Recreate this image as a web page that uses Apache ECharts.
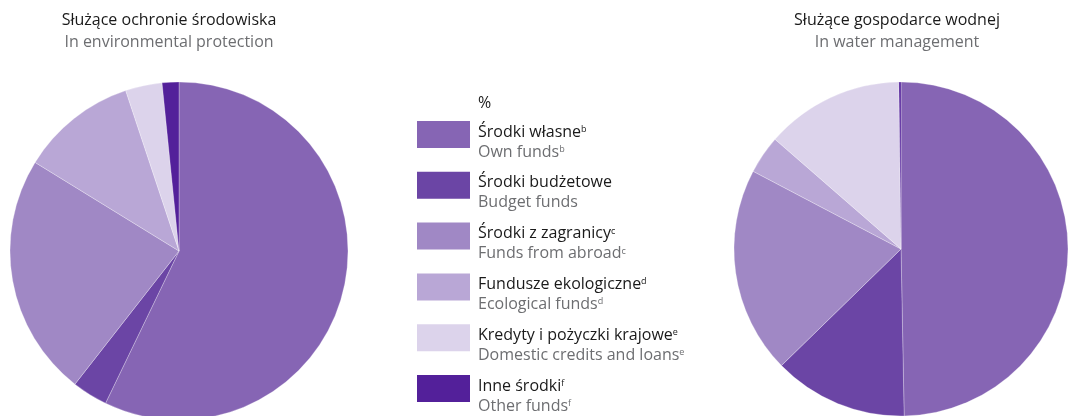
<!DOCTYPE html>
<html>
<head>
<meta charset="utf-8">
<script src="https://cdn.jsdelivr.net/npm/echarts@6/dist/echarts.min.js"></script>
<style>
  html, body { margin: 0; padding: 0; background: #fff; }
  #chart { width: 1070px; height: 416px; }
</style>
</head>
<body>
<div id="chart"></div>
<script>
// kategorie / categories
const categoriesPl = ['Środki własne', 'Środki budżetowe', 'Środki z zagranicy', 'Fundusze ekologiczne', 'Kredyty i pożyczki krajowe', 'Inne środki']
const categoriesEn = ['Own funds', 'Budget funds', 'Funds from abroad', 'Ecological funds', 'Domestic credits and loans', 'Other funds']
const footnotes = ['b', '', 'c', 'd', 'e', 'f']
// udział w %
const environmentValues = [57.1, 3.4, 23.2, 11.1, 3.5, 1.6]
const waterValues = [49.7, 13.0, 20.0, 3.7, 13.4, 0.2]

const colors = ['#8665b4', '#6b45a5', '#a088c5', '#b9a7d6', '#dcd3eb', '#53209a']
const font = '"Open Sans", Lato, sans-serif'

let myChart = echarts.init(document.getElementById('chart'))

function toData(values) {
  return values.map((v, i) => ({ name: categoriesPl[i], value: v }))
}

myChart.setOption({
  color: colors,
  animation: false,
  title: [
    {
      text: 'Służące ochronie środowiska',
      subtext: 'In environmental protection',
      left: 169,
      top: 10,
      textAlign: 'center',
      itemGap: 2,
      padding: 0,
      textStyle: { fontFamily: font, fontSize: 16, fontWeight: 'normal', color: '#1a1a1a', lineHeight: 20 },
      subtextStyle: { fontFamily: font, fontSize: 16, color: '#6d6e71', lineHeight: 20 },
    },
    {
      text: 'Służące gospodarce wodnej',
      subtext: 'In water management',
      left: 897,
      top: 10,
      textAlign: 'center',
      itemGap: 2,
      padding: 0,
      textStyle: { fontFamily: font, fontSize: 16, fontWeight: 'normal', color: '#1a1a1a', lineHeight: 20 },
      subtextStyle: { fontFamily: font, fontSize: 16, color: '#6d6e71', lineHeight: 20 },
    },
    {
      text: '%',
      left: 478,
      top: 93,
      padding: 0,
      textStyle: { fontFamily: font, fontSize: 16, fontWeight: 'normal', color: '#1a1a1a', lineHeight: 20 },
    },
  ],
  legend: {
    orient: 'vertical',
    left: 417,
    top: 121,
    padding: 0,
    itemWidth: 53,
    itemHeight: 27,
    itemGap: 11.8,
    icon: 'rect',
    selectedMode: false,
    itemStyle: { borderWidth: 0 },
    data: categoriesPl,
    formatter: function (name) {
      let i = categoriesPl.indexOf(name)
      let f = footnotes[i]
      let supPl = f ? '{supPl|' + f + '}' : ''
      let supEn = f ? '{supEn|' + f + '}' : ''
      return '{pl|' + name + '}' + supPl + '\n{en|' + categoriesEn[i] + '}' + supEn
    },
    textStyle: {
      padding: [15, 0, 0, 3],
      rich: {
        pl: { fontFamily: font, fontSize: 16, color: '#1a1a1a', lineHeight: 20 },
        en: { fontFamily: font, fontSize: 16, color: '#6d6e71', lineHeight: 20 },
        supPl: { fontFamily: font, fontSize: 9, color: '#1a1a1a', lineHeight: 20, verticalAlign: 'top', padding: [3, 0, 0, 0] },
        supEn: { fontFamily: font, fontSize: 9, color: '#6d6e71', lineHeight: 20, verticalAlign: 'top', padding: [3, 0, 0, 0] },
      },
    },
  },
  series: [
    {
      name: 'Służące ochronie środowiska',
      type: 'pie',
      center: [179, 251],
      radius: 169,
      startAngle: 90,
      clockwise: true,
      label: { show: false },
      labelLine: { show: false },
      itemStyle: { borderColor: 'rgba(255,255,255,0.45)', borderWidth: 0.6 },
      emphasis: { disabled: true },
      data: toData(environmentValues),
    },
    {
      name: 'Służące gospodarce wodnej',
      type: 'pie',
      center: [901, 249],
      radius: 167,
      startAngle: 90,
      clockwise: true,
      label: { show: false },
      labelLine: { show: false },
      itemStyle: { borderColor: 'rgba(255,255,255,0.45)', borderWidth: 0.6 },
      emphasis: { disabled: true },
      data: toData(waterValues),
    },
  ],
})
</script>
</body>
</html>
